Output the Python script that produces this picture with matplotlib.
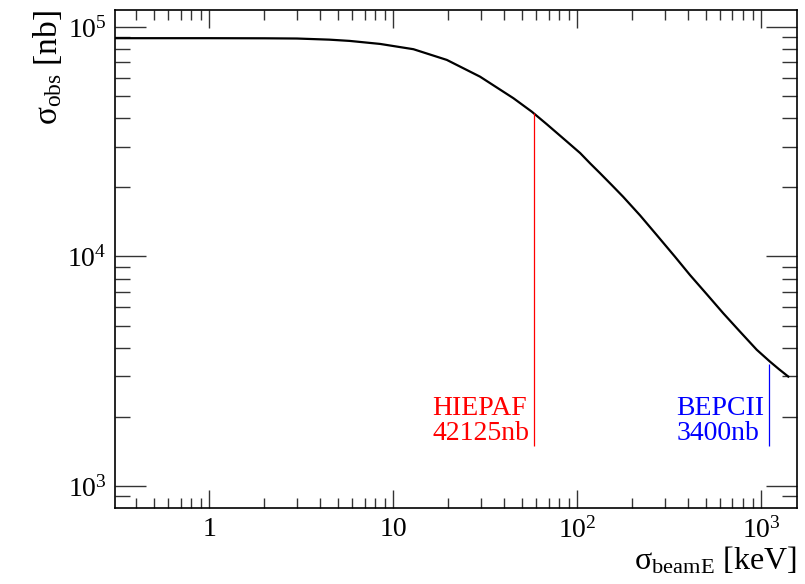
import math

import matplotlib
matplotlib.use('Agg')
import matplotlib.pyplot as plt
from matplotlib.ticker import LogLocator, FuncFormatter, NullFormatter

plt.rcParams['font.family'] = ['Liberation Serif', 'DejaVu Serif']
plt.rcParams['mathtext.fontset'] = 'custom'
plt.rcParams['mathtext.rm'] = 'Liberation Serif'
plt.rcParams['mathtext.it'] = 'Liberation Serif:italic'

# curve
sigma_beam = [0.3, 1.0, 2.0, 3.0, 4.5, 5.8, 8.5, 12.9, 19.6, 29.7, 45.1, 56.7,
              68.4, 88.3, 104, 118, 133, 155, 178, 220, 271, 340, 411, 510,
              624, 760, 948, 1119, 1250, 1407]
sigma_obs = [89300, 89300, 89200, 89000, 88000, 86900, 84300, 79950, 71800,
             60700, 48900, 42750, 37700, 31600, 28200, 25400, 23100, 20400,
             18200, 15100, 12400, 9990, 8300, 6810, 5650, 4750, 3920, 3480,
             3230, 2995]

# markers for the two machines
machines = ['HIEPAF', 'BEPCII']
machine_spread = [58.0, 1100.0]
machine_xsec = [42125, 3400]
machine_colors = ['red', 'blue']
line_floor = 1500

fig = plt.figure(figsize=(8.05, 5.84), dpi=100)
ax = fig.add_axes([0.1429, 0.1307, 0.8472, 0.8522])

ax.plot(sigma_beam, sigma_obs, color='black', lw=1.6)

for name, xs, ys, col in zip(machines, machine_spread, machine_xsec, machine_colors):
    ax.vlines(xs, line_floor, ys, color=col, lw=0.9)
    ax.annotate(f'{name}\n{ys}nb', xy=(xs, line_floor), xytext=(-3, 0),
                textcoords='offset points', ha='right', va='bottom',
                multialignment='left', color=col, fontsize=20, linespacing=1.0)

ax.set_xscale('log')
ax.set_yscale('log')
ax.set_xlim(0.308, 1570)
ax.set_ylim(804, 1.185e5)


def xfmt(v, pos):
    if abs(v - 1) < 1e-9:
        return '1'
    if abs(v - 10) < 1e-9:
        return '10'
    return r'$10^{%d}$' % round(math.log10(v))


ax.xaxis.set_major_locator(LogLocator(base=10, numticks=20))
ax.xaxis.set_minor_locator(LogLocator(base=10, subs=range(2, 10), numticks=20))
ax.xaxis.set_major_formatter(FuncFormatter(xfmt))
ax.xaxis.set_minor_formatter(NullFormatter())
ax.yaxis.set_major_locator(LogLocator(base=10, numticks=20))
ax.yaxis.set_minor_locator(LogLocator(base=10, subs=range(2, 10), numticks=20))
ax.yaxis.set_major_formatter(FuncFormatter(lambda v, p: r'$10^{%d}$' % round(math.log10(v))))
ax.yaxis.set_minor_formatter(NullFormatter())

ax.tick_params(which='both', direction='in', top=True, right=True,
               labelsize=20, width=1.0, color='#333333')
ax.tick_params(axis='x', which='major', length=13, pad=7)
ax.tick_params(axis='x', which='minor', length=7)
ax.tick_params(axis='y', which='major', length=22, pad=6)
ax.tick_params(axis='y', which='minor', length=11)
for s in ax.spines.values():
    s.set_linewidth(1.2)

ax.set_xlabel('σ$_{\\rm beamE}$ [keV]', fontsize=23, loc='right', labelpad=1)
ax.set_ylabel('σ$_{\\rm obs}$ [nb]', fontsize=24, loc='top', labelpad=2)

fig.savefig('out.png', dpi=100)
